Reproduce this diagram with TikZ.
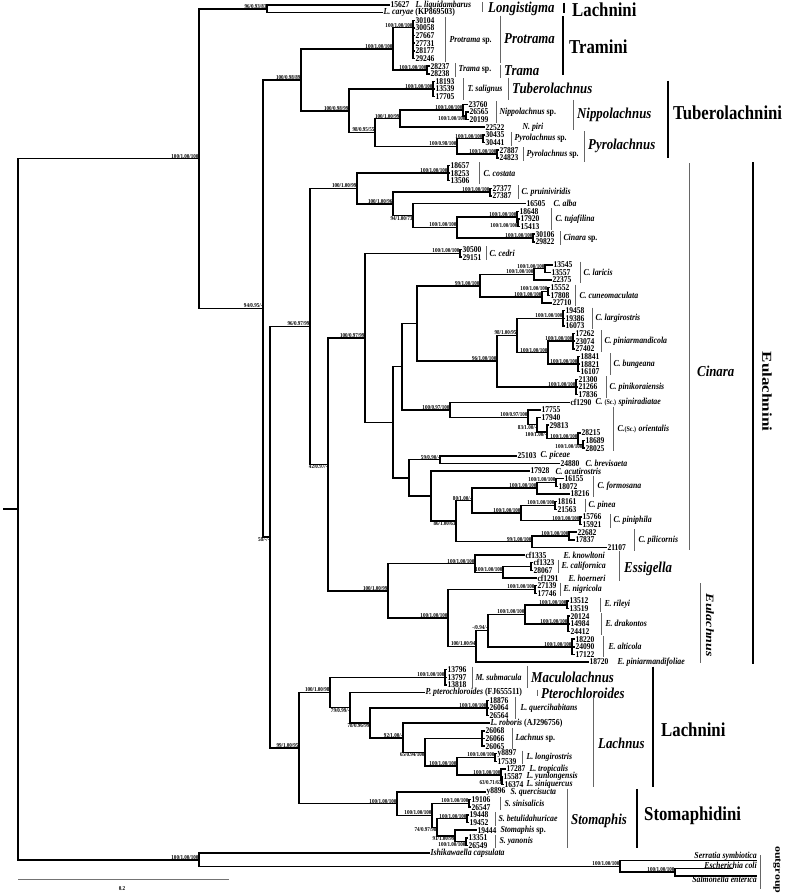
\documentclass[tikz,border=0pt]{standalone}
\usepackage{fontspec}
\setmainfont{Liberation Serif}[FakeStretch=0.85]
\newfontfamily\rotfont{Liberation Serif}
\usepackage{graphicx}
\usetikzlibrary{calc}

% tip label: name, row, branch end x, text
\newcommand\tip[4]{\node[num] (#1) at (#3,#2) {#4};}
% inner node half way between its first and last child
\newcommand\clade[4]{\path let \p1=($(#3)!.5!(#4)$) in coordinate (#1) at (#2pt,\y1);}
\newcommand\suplab[2]{\node[sup,anchor=south east] (s#1) at (#1) {#2};}
\newcommand\suplow[2]{\node[sup,anchor=north east] (s#1) at (#1) {#2};}
\newcommand\clbar[4][gbar]{\draw[#1] (#2,#3) -- (#2,#4);}

\begin{document}
\begin{tikzpicture}[x=1pt, y=-7.64pt,
  br/.style={line width=1.5pt},
  num/.style={anchor=west, inner sep=0.3pt, font=\fontsize{8.9}{8.9}\selectfont\bfseries},
  spc/.style={anchor=west, inner sep=0.3pt, font=\fontsize{9.2}{9.2}\selectfont\bfseries\itshape},
  sup/.style={inner sep=0.3pt, font=\fontsize{6}{6}\selectfont\bfseries},
  gen/.style={anchor=west, inner sep=0pt, font=\fontsize{15.1}{15.1}\selectfont\bfseries\itshape},
  tribe/.style={anchor=west, inner sep=0pt, font=\fontsize{19.7}{19.7}\selectfont\bfseries},
  gbar/.style={line width=0.7pt, black!60},
  tbar/.style={line width=2.6pt}]
\useasboundingbox (0,0.3455) rectangle (787,117.62);

% ---- tips
\tip{t15627}{1}{390}{15627}
\node[spc] (tCar) at (383,2) {L. caryae \upshape(KP869503)};
\tip{t30104}{3}{415}{30104}
\tip{t30058}{4}{415}{30058}
\tip{t27667}{5}{415}{27667}
\tip{t27731}{6}{415}{27731}
\tip{t28177}{7}{415}{28177}
\tip{t29246}{8}{415}{29246}
\tip{t28237}{9}{430}{28237}
\tip{t28238}{10}{430}{28238}
\tip{t18193}{11}{435}{18193}
\tip{t13539}{12}{435}{13539}
\tip{t17705}{13}{435}{17705}
\tip{t23760}{14}{468}{23760}
\tip{t26565}{15}{469}{26565}
\tip{t20199}{16}{469}{20199}
\tip{t22522}{17}{485}{22522}
\tip{t30435}{18}{485}{30435}
\tip{t30441}{19}{485}{30441}
\tip{t27887}{20}{499}{27887}
\tip{t24823}{21}{499}{24823}
\tip{t18657}{22}{450}{18657}
\tip{t18253}{23}{450}{18253}
\tip{t13506}{24}{450}{13506}
\tip{t27377}{25}{492}{27377}
\tip{t27387}{26}{492}{27387}
\tip{t16505}{27}{526}{16505}
\tip{t18648}{28}{519}{18648}
\tip{t17920}{29}{520}{17920}
\tip{t15413}{30}{520}{15413}
\tip{t30106}{31}{535}{30106}
\tip{t29822}{32}{535}{29822}
\tip{t30500}{33}{462}{30500}
\tip{t29151}{34}{462}{29151}
\tip{t13545}{35}{553}{13545}
\tip{t13557}{36}{551}{13557}
\tip{t22375}{37}{552}{22375}
\tip{t15552}{38}{550}{15552}
\tip{t17808}{39}{550}{17808}
\tip{t22710}{40}{552}{22710}
\tip{t19458}{41}{565}{19458}
\tip{t19386}{42}{565}{19386}
\tip{t16073}{43}{565}{16073}
\tip{t17262}{44}{575}{17262}
\tip{t23074}{45}{575}{23074}
\tip{t27402}{46}{575}{27402}
\tip{t18841}{47}{580}{18841}
\tip{t18821}{48}{580}{18821}
\tip{t16107}{49}{580}{16107}
\tip{t21300}{50}{578}{21300}
\tip{t21266}{51}{578}{21266}
\tip{t17836}{52}{578}{17836}
\tip{t1290}{53}{570}{cf1290}
\tip{t17755}{54}{541}{17755}
\tip{t17940}{55}{541}{17940}
\tip{t29813}{56}{549}{29813}
\tip{t28215}{57}{581}{28215}
\tip{t18689}{58}{585}{18689}
\tip{t28025}{59}{585}{28025}
\tip{t25103}{60}{517}{25103}
\tip{t24880}{61}{560}{24880}
\tip{t17928}{62}{530}{17928}
\tip{t16155}{63}{564}{16155}
\tip{t18072}{64}{558}{18072}
\tip{t18216}{65}{570}{18216}
\tip{t18161}{66}{557}{18161}
\tip{t21563}{67}{557}{21563}
\tip{t15766}{68}{582}{15766}
\tip{t15921}{69}{582}{15921}
\tip{t22682}{70}{577}{22682}
\tip{t17837}{71}{575}{17837}
\tip{t21107}{72}{607}{21107}
\tip{t1335}{73}{525}{cf1335}
\tip{t1323}{74}{533}{cf1323}
\tip{t28067}{75}{533}{28067}
\tip{t1291}{76}{537}{cf1291}
\tip{t27139}{77}{537}{27139}
\tip{t17746}{78}{537}{17746}
\tip{t13512}{79}{569}{13512}
\tip{t13519}{80}{569}{13519}
\tip{t20124}{81}{570}{20124}
\tip{t14984}{82}{570}{14984}
\tip{t24412}{83}{570}{24412}
\tip{t18220}{84}{575}{18220}
\tip{t24090}{85}{575}{24090}
\tip{t17122}{86}{575}{17122}
\tip{t18720}{87}{589}{18720}
\tip{t13796}{88}{447}{13796}
\tip{t13797}{89}{447}{13797}
\tip{t13818}{90}{447}{13818}
\node[spc] (tPte) at (425,91) {P. pterochloroides \upshape(FJ655511)};
\tip{t18876}{92}{489}{18876}
\tip{t26064}{93}{489}{26064}
\tip{t26564}{94}{489}{26564}
\node[spc] (tRob) at (490,95) {L. roboris \upshape(AJ296756)};
\tip{t26068}{96}{485}{26068}
\tip{t26066}{97}{485}{26066}
\tip{t26065}{98}{485}{26065}
\tip{t8897}{99}{497}{y8897}
\tip{t17539}{100}{497}{17539}
\tip{t17287}{101}{506}{17287}
\tip{t15587}{102}{503}{15587}
\tip{t16374}{103}{504}{16374}
\tip{t8896}{104}{486}{y8896}
\tip{t19106}{105}{471}{19106}
\tip{t26547}{106}{471}{26547}
\tip{t19448}{107}{469}{19448}
\tip{t19452}{108}{469}{19452}
\tip{t19444}{109}{477}{19444}
\tip{t13351}{110}{468}{13351}
\tip{t26549}{111}{468}{26549}
\node[spc] (tIsh) at (430,112) {Ishikawaella capsulata};
\coordinate (eSer) at (757,113);
\coordinate (eEco) at (733,114);
\coordinate (eSal) at (757,115);
\node[spc,anchor=south east,inner sep=0pt] (tSer) at (eSer) {Serratia symbiotica};
\node[spc,anchor=east,inner sep=0pt] (tEco) at (757,113.66) {Escherichia coli};
\node[spc,anchor=north east,inner sep=0pt] (tSal) at (eSal) {Salmonella enterica};

% ---- inner nodes
\clade{nLon}{267}{t15627}{tCar}
\coordinate (nProt) at (413,3.97);
\clade{nTrama}{427}{t28237}{t28238}
\clade{nTram}{393}{nProt}{nTrama}
\clade{nTub}{433}{t18193}{t17705}
\clade{nNipB}{466}{t26565}{t20199}
\clade{nNipA}{463}{t23760}{nNipB}
\clade{nNip}{400}{nNipA}{t22522}
\clade{nPyrA}{483}{t30435}{t30441}
\clade{nPyrB}{497}{t27887}{t24823}
\clade{nPyr}{457}{nPyrA}{nPyrB}
\clade{nNP}{375}{nNip}{nPyr}
\clade{nTuber}{349}{nTub}{nNP}
\clade{nTT}{301}{nTram}{nTuber}

\clade{nCos}{448}{t18657}{t13506}
\clade{nPru}{490}{t27377}{t27387}
\clade{nTuj2}{518}{t17920}{t15413}
\clade{nTuja}{517}{t18648}{nTuj2}
\clade{nCsp}{533}{t30106}{t29822}
\clade{nTC}{457}{nTuja}{nCsp}
\clade{nAlb}{413}{t16505}{nTC}
\clade{nPA}{393}{nPru}{nAlb}
\clade{nCup}{357}{nCos}{nPA}

\clade{nCed}{460}{t30500}{t29151}
\clade{nLar2}{545}{t13545}{t13557}
\clade{nLar}{534}{nLar2}{t22375}
\clade{nCun2}{548}{t15552}{t17808}
\clade{nCun}{542}{nCun2}{t22710}
\clade{nLC}{480}{nLar}{nCun}
\clade{nLrg}{563}{t19458}{t16073}
\clade{nPam}{573}{t17262}{t27402}
\clade{nBun}{578}{t18841}{t16107}
\clade{nPB}{548}{nPam}{nBun}
\clade{nLPB}{517}{nLrg}{nPB}
\clade{nPko}{576}{t21300}{t17836}
\clade{nLP}{497}{nLPB}{nPko}
\clade{nLCP}{417}{nLC}{nLP}
\clade{nOr6}{583}{t18689}{t28025}
\clade{nOr5}{578}{t28215}{nOr6}
\clade{nOr4}{547}{t29813}{nOr5}
\clade{nOr3}{537}{t17940}{nOr4}
\clade{nOr2}{528}{t17755}{nOr3}
\clade{nSO}{450}{t1290}{nOr2}
\clade{nUp}{402}{nLCP}{nSO}
\clade{nPic}{440}{t25103}{t24880}
\clade{nForm2}{556}{t16155}{t18072}
\clade{nForm}{537}{nForm2}{t18216}
\clade{nPin}{555}{t18161}{t21563}
\clade{nPph}{580}{t15766}{t15921}
\clade{nPP}{521}{nPin}{nPph}
\clade{nFPP}{472}{nForm}{nPP}
\clade{nPil2}{569}{t22682}{t17837}
\clade{nPil}{532}{nPil2}{t21107}
\clade{nFP}{456}{nFPP}{nPil}
\clade{nAcu}{431}{t17928}{nFP}
\clade{nLow}{409}{nPic}{nAcu}
\clade{nCm2}{393}{nUp}{nLow}
\clade{nCm}{365}{nCed}{nCm2}

\clade{nCal}{531}{t1323}{t28067}
\clade{nEs2}{503}{nCal}{t1291}
\clade{nEss}{475}{t1335}{nEs2}
\clade{nNig}{535}{t27139}{t17746}
\clade{nRil}{567}{t13512}{t13519}
\clade{nDrk}{568}{t20124}{t24412}
\clade{nRD}{525}{nRil}{nDrk}
\clade{nAlt}{572}{t18220}{t17122}
\clade{nRDA}{488}{nRD}{nAlt}
\clade{nEul2}{476}{nRDA}{t18720}
\clade{nEul}{448}{nNig}{nEul2}
\clade{nEE}{388}{nEss}{nEul}
\clade{nCE}{328}{nCm}{nEE}
\clade{nEla}{310}{nCup}{nCE}

\clade{nMac}{445}{t13796}{t13818}
\clade{nQue}{487}{t18876}{t26564}
\clade{nLsp}{482}{t26068}{t26065}
\clade{nLon2}{495}{t8897}{t17539}
\clade{nYun}{502}{t15587}{t16374}
\clade{nTro}{501}{t17287}{nYun}
\clade{nLT2}{457}{nLon2}{nTro}
\clade{nLsL}{425}{nLsp}{nLT2}
\clade{nRob}{403}{tRob}{nLsL}
\clade{nQR}{370}{nQue}{nRob}
\clade{nPQ}{350}{tPte}{nQR}
\clade{nLach}{330}{nMac}{nPQ}

\clade{nSin}{469}{t19106}{t26547}
\clade{nBet}{467}{t19448}{t19452}
\clade{nYan}{466}{t13351}{t26549}
\clade{nSY}{455}{t19444}{nYan}
\clade{nBSY}{437}{nBet}{nSY}
\clade{nSBSY}{432}{nSin}{nBSY}
\clade{nSto}{397}{t8896}{nSBSY}
\clade{nLS}{299}{nLach}{nSto}

\clade{nRest}{270}{nEla}{nLS}
\clade{nMain}{263}{nTT}{nRest}
\clade{nIn}{199}{nLon}{nMain}
\clade{nES}{675}{eEco}{eSal}
\clade{nEnt}{620}{eSer}{nES}
\clade{nOut}{199}{tIsh}{nEnt}
\clade{nRoot}{18}{nIn}{nOut}
\coordinate (base) at ([xshift=-15pt]nRoot);

% ---- branches
\draw[br] (nLon) |- (t15627.west) (nLon) |- (tCar.west);
\draw[br] (nProt) |- (t30104.west) (nProt) |- (t30058.west) (nProt) |- (t27667.west)
          (nProt) |- (t27731.west) (nProt) |- (t28177.west) (nProt) |- (t29246.west);
\draw[br] (nTrama) |- (t28237.west) (nTrama) |- (t28238.west);
\draw[br] (nTram) |- (nProt) (nTram) |- (nTrama);
\draw[br] (nTub) |- (t18193.west) (nTub) |- (t13539.west) (nTub) |- (t17705.west);
\draw[br] (nNipB) |- (t26565.west) (nNipB) |- (t20199.west);
\draw[br] (nNipA) |- (t23760.west) (nNipA) |- (nNipB);
\draw[br] (nNip) |- (nNipA) (nNip) |- (t22522.west);
\draw[br] (nPyrA) |- (t30435.west) (nPyrA) |- (t30441.west);
\draw[br] (nPyrB) |- (t27887.west) (nPyrB) |- (t24823.west);
\draw[br] (nPyr) |- (nPyrA) (nPyr) |- (nPyrB);
\draw[br] (nNP) |- (nNip) (nNP) |- (nPyr);
\draw[br] (nTuber) |- (nTub) (nTuber) |- (nNP);
\draw[br] (nTT) |- (nTram) (nTT) |- (nTuber);

\draw[br] (nCos) |- (t18657.west) (nCos) |- (t18253.west) (nCos) |- (t13506.west);
\draw[br] (nPru) |- (t27377.west) (nPru) |- (t27387.west);
\draw[br] (nTuj2) |- (t17920.west) (nTuj2) |- (t15413.west);
\draw[br] (nTuja) |- (t18648.west) (nTuja) |- (nTuj2);
\draw[br] (nCsp) |- (t30106.west) (nCsp) |- (t29822.west);
\draw[br] (nTC) |- (nTuja) (nTC) |- (nCsp);
\draw[br] (nAlb) |- (t16505.west) (nAlb) |- (nTC);
\draw[br] (nPA) |- (nPru) (nPA) |- (nAlb);
\draw[br] (nCup) |- (nCos) (nCup) |- (nPA);

\draw[br] (nCed) |- (t30500.west) (nCed) |- (t29151.west);
\draw[br] (nLar2) |- (t13545.west) (nLar2) |- (t13557.west);
\draw[br] (nLar) |- (nLar2) (nLar) |- (t22375.west);
\draw[br] (nCun2) |- (t15552.west) (nCun2) |- (t17808.west);
\draw[br] (nCun) |- (nCun2) (nCun) |- (t22710.west);
\draw[br] (nLC) |- (nLar) (nLC) |- (nCun);
\draw[br] (nLrg) |- (t19458.west) (nLrg) |- (t19386.west) (nLrg) |- (t16073.west);
\draw[br] (nPam) |- (t17262.west) (nPam) |- (t23074.west) (nPam) |- (t27402.west);
\draw[br] (nBun) |- (t18841.west) (nBun) |- (t18821.west) (nBun) |- (t16107.west);
\draw[br] (nPB) |- (nPam) (nPB) |- (nBun);
\draw[br] (nLPB) |- (nLrg) (nLPB) |- (nPB);
\draw[br] (nPko) |- (t21300.west) (nPko) |- (t21266.west) (nPko) |- (t17836.west);
\draw[br] (nLP) |- (nLPB) (nLP) |- (nPko);
\draw[br] (nLCP) |- (nLC) (nLCP) |- (nLP);
\draw[br] (nOr6) |- (t18689.west) (nOr6) |- (t28025.west);
\draw[br] (nOr5) |- (t28215.west) (nOr5) |- (nOr6);
\draw[br] (nOr4) |- (t29813.west) (nOr4) |- (nOr5);
\draw[br] (nOr3) |- (t17940.west) (nOr3) |- (nOr4);
\draw[br] (nOr2) |- (t17755.west) (nOr2) |- (nOr3);
\draw[br] (nSO) |- (t1290.west) (nSO) |- (nOr2);
\draw[br] (nUp) |- (nLCP) (nUp) |- (nSO);
\draw[br] (nPic) |- (t25103.west) (nPic) |- (t24880.west);
\draw[br] (nForm2) |- (t16155.west) (nForm2) |- (t18072.west);
\draw[br] (nForm) |- (nForm2) (nForm) |- (t18216.west);
\draw[br] (nPin) |- (t18161.west) (nPin) |- (t21563.west);
\draw[br] (nPph) |- (t15766.west) (nPph) |- (t15921.west);
\draw[br] (nPP) |- (nPin) (nPP) |- (nPph);
\draw[br] (nFPP) |- (nForm) (nFPP) |- (nPP);
\draw[br] (nPil2) |- (t22682.west) (nPil2) |- (t17837.west);
\draw[br] (nPil) |- (nPil2) (nPil) |- (t21107.west);
\draw[br] (nFP) |- (nFPP) (nFP) |- (nPil);
\draw[br] (nAcu) |- (t17928.west) (nAcu) |- (nFP);
\draw[br] (nLow) |- (nPic) (nLow) |- (nAcu);
\draw[br] (nCm2) |- (nUp) (nCm2) |- (nLow);
\draw[br] (nCm) |- (nCed) (nCm) |- (nCm2);

\draw[br] (nCal) |- (t1323.west) (nCal) |- (t28067.west);
\draw[br] (nEs2) |- (nCal) (nEs2) |- (t1291.west);
\draw[br] (nEss) |- (t1335.west) (nEss) |- (nEs2);
\draw[br] (nNig) |- (t27139.west) (nNig) |- (t17746.west);
\draw[br] (nRil) |- (t13512.west) (nRil) |- (t13519.west);
\draw[br] (nDrk) |- (t20124.west) (nDrk) |- (t14984.west) (nDrk) |- (t24412.west);
\draw[br] (nRD) |- (nRil) (nRD) |- (nDrk);
\draw[br] (nAlt) |- (t18220.west) (nAlt) |- (t24090.west) (nAlt) |- (t17122.west);
\draw[br] (nRDA) |- (nRD) (nRDA) |- (nAlt);
\draw[br] (nEul2) |- (nRDA) (nEul2) |- (t18720.west);
\draw[br] (nEul) |- (nNig) (nEul) |- (nEul2);
\draw[br] (nEE) |- (nEss) (nEE) |- (nEul);
\draw[br] (nCE) |- (nCm) (nCE) |- (nEE);
\draw[br] (nEla) |- (nCup) (nEla) |- (nCE);

\draw[br] (nMac) |- (t13796.west) (nMac) |- (t13797.west) (nMac) |- (t13818.west);
\draw[br] (nQue) |- (t18876.west) (nQue) |- (t26064.west) (nQue) |- (t26564.west);
\draw[br] (nLsp) |- (t26068.west) (nLsp) |- (t26066.west) (nLsp) |- (t26065.west);
\draw[br] (nLon2) |- (t8897.west) (nLon2) |- (t17539.west);
\draw[br] (nYun) |- (t15587.west) (nYun) |- (t16374.west);
\draw[br] (nTro) |- (t17287.west) (nTro) |- (nYun);
\draw[br] (nLT2) |- (nLon2) (nLT2) |- (nTro);
\draw[br] (nLsL) |- (nLsp) (nLsL) |- (nLT2);
\draw[br] (nRob) |- (tRob.west) (nRob) |- (nLsL);
\draw[br] (nQR) |- (nQue) (nQR) |- (nRob);
\draw[br] (nPQ) |- (tPte.west) (nPQ) |- (nQR);
\draw[br] (nLach) |- (nMac) (nLach) |- (nPQ);

\draw[br] (nSin) |- (t19106.west) (nSin) |- (t26547.west);
\draw[br] (nBet) |- (t19448.west) (nBet) |- (t19452.west);
\draw[br] (nYan) |- (t13351.west) (nYan) |- (t26549.west);
\draw[br] (nSY) |- (t19444.west) (nSY) |- (nYan);
\draw[br] (nBSY) |- (nBet) (nBSY) |- (nSY);
\draw[br] (nSBSY) |- (nSin) (nSBSY) |- (nBSY);
\draw[br] (nSto) |- (t8896.west) (nSto) |- (nSBSY);
\draw[br] (nLS) |- (nLach) (nLS) |- (nSto);

\draw[br] (nRest) |- (nEla) (nRest) |- (nLS);
\draw[br] (nMain) |- (nTT) (nMain) |- (nRest);
\draw[br] (nIn) |- (nLon) (nIn) |- (nMain);
\draw[br] (nES) |- (eEco) (nES) |- (eSal);
\draw[br] (nEnt) |- (eSer) (nEnt) |- (nES);
\draw[br] (nOut) |- (tIsh.west) (nOut) |- (nEnt);
\draw[br] (nRoot) |- (nIn) (nRoot) |- (nOut);
\draw[br] (base) -- (nRoot);

% ---- support values
\suplab{nLon}{96/0.93/83}
\suplab{nProt}{100/1.00/100}
\suplab{nTrama}{100/1.00/100}
\suplab{nTram}{100/1.00/100}
\suplab{nTub}{100/1.00/100}
\suplab{nNipA}{100/1.00/100}
\suplow{nNipB}{100/1.00/100}
\suplab{nNip}{100/1.00/99}
\suplab{nPyrA}{100/1.00/100}
\suplab{nPyrB}{100/1.00/100}
\suplab{nPyr}{100/0.98/100}
\suplab{nNP}{98/0.95/55}
\suplab{nTuber}{100/0.98/99}
\suplab{nTT}{100/0.98/89}
\suplab{nCos}{100/1.00/100}
\suplab{nPru}{100/1.00/100}
\suplab{nTuja}{100/1.00/100}
\suplow{nTuj2}{100/1.00/100}
\suplab{nCsp}{100/1.00/100}
\suplab{nTC}{100/1.00/100}
\suplow{nAlb}{94/1.00/73}
\suplab{nPA}{100/1.00/96}
\suplab{nCup}{100/1.00/99}
\suplab{nCed}{100/1.00/100}
\suplab{nLar2}{100/1.00/100}
\suplab{nLar}{100/1.00/100}
\suplab{nCun2}{100/1.00/100}
\suplab{nCun}{100/1.00/100}
\suplab{nLC}{99/1.00/100}
\suplab{nLrg}{100/1.00/100}
\suplab{nPam}{100/1.00/100}
\suplab{nBun}{100/1.00/100}
\suplab{nPB}{100/1.00/100}
\suplab{nLPB}{98/1.00/95}
\suplab{nPko}{100/1.00/100}
\suplab{nLP}{96/1.00/100}
\suplow{nOr6}{100/1.00/100}
\suplab{nOr5}{100/1.00/100}
\suplow{nOr4}{100/1.00/-}
\suplow{nOr3}{83/1.00/-}
\suplab{nOr2}{100/0.97/100}
\suplab{nSO}{100/0.97/100}
\suplab{nPic}{59/0.90/-}
\suplab{nForm2}{100/1.00/100}
\suplab{nForm}{100/1.00/100}
\suplab{nPin}{100/1.00/100}
\suplab{nPph}{100/1.00/100}
\suplab{nPP}{100/1.00/100}
\suplab{nFPP}{80/1.00/-}
\suplab{nPil2}{100/1.00/100}
\suplab{nPil}{99/1.00/100}
\suplow{nFP}{86/1.00/63}
\suplab{nCm}{100/0.97/99}
\suplab{nEs2}{100/1.00/100}
\suplab{nEss}{100/1.00/100}
\suplab{nNig}{100/1.00/100}
\suplab{nRil}{100/1.00/100}
\suplab{nDrk}{100/1.00/100}
\suplab{nRD}{100/1.00/100}
\suplab{nAlt}{100/1.00/100}
\suplab{nRDA}{-/0.94/-}
\suplab{nEul2}{100/1.00/94}
\suplab{nEul}{100/1.00/100}
\suplab{nEE}{100/1.00/99}
\suplow{nCE}{42/0.97/-}
\suplab{nEla}{96/0.97/99}
\suplab{nMac}{100/1.00/100}
\suplab{nQue}{100/1.00/100}
\suplab{nLon2}{100/1.00/100}
\suplow{nYun}{63/0.71/63}
\suplab{nTro}{100/1.00/100}
\suplab{nLT2}{100/1.00/100}
\suplow{nLsL}{65/0.94/100}
\suplab{nRob}{92/1.00/-}
\suplow{nQR}{78/0.96/99}
\suplow{nPQ}{79/0.99/-}
\suplab{nLach}{100/1.00/98}
\suplab{nSin}{100/1.00/100}
\suplab{nBet}{100/1.00/100}
\suplow{nYan}{100/1.00/100}
\suplow{nSY}{91/1.00/99}
\suplow{nBSY}{74/0.97/98}
\suplab{nSBSY}{100/1.00/100}
\suplab{nSto}{100/1.00/100}
\suplab{nLS}{99/1.00/95}
\suplow{nRest}{58/-/-}
\suplab{nMain}{94/0.95/-}
\suplab{nIn}{100/1.00/100}
\suplab{nES}{100/1.00/100}
\suplab{nEnt}{100/1.00/100}
\suplab{nOut}{100/1.00/100}

% ---- species, genera, tribes
\node[spc] (sLiq) at (415,1) {L. liquidambarus};
\clbar{482}{0.6}{1.9}
\node[gen] (gLon) at (488,1.5) {Longistigma};
\clbar[tbar]{564}{0.7}{2.1}
\node[tribe] (rLach1) at (572,1.6) {Lachnini};

\clbar{445}{2.6}{8.4}
\node[spc] (sProt) at (449,5.7) {Protrama \upshape sp.};
\clbar{500}{2.4}{8.6}
\node[gen] (gProt) at (504,5.4) {Protrama};
\clbar{455}{8.6}{10.4}
\node[spc] (sTrama) at (458,9.5) {Trama \upshape sp.};
\clbar{500}{8.8}{10.5}
\node[gen] (gTrama) at (504,9.6) {Trama};
\clbar[tbar]{563}{2.5}{10.2}
\node[tribe] (rTram) at (569,6.5) {Tramini};

\clbar{463}{10.6}{13.4}
\node[spc] (sSal) at (467,12) {T. salignus};
\clbar{508}{10.5}{13.4}
\node[gen] (gTub) at (512,11.9) {Tuberolachnus};
\clbar{496}{13.6}{16.4}
\node[spc] (sNip) at (499,15) {Nippolachnus \upshape sp.};
\node[spc] (sPiri) at (522,17) {N. piri};
\clbar{573}{13.4}{17.4}
\node[gen] (gNip) at (577,15.4) {Nippolachnus};
\clbar{511}{17.6}{19.4}
\node[spc] (sPyr1) at (514,18.5) {Pyrolachnus \upshape sp.};
\clbar{523}{19.6}{21.4}
\node[spc] (sPyr2) at (526,20.5) {Pyrolachnus \upshape sp.};
\clbar{584}{17.5}{21.5}
\node[gen] (gPyr) at (588,19.5) {Pyrolachnus};
\clbar[tbar]{668}{10.9}{21}
\node[tribe] (rTub) at (673,15.1) {Tuberolachnini};

\clbar{479}{21.6}{24.4}
\node[spc] (sCos) at (483,23) {C. costata};
\clbar{518}{24.6}{26.4}
\node[spc] (sPru) at (521,25.5) {C. pruiniviridis};
\node[spc] (sAlba) at (553,27) {C. alba};
\clbar{551}{27.6}{30.4}
\node[spc] (sTuj) at (555,29) {C. tujafilina};
\clbar{560}{30.6}{32.4}
\node[spc] (sCsp) at (563,31.5) {Cinara \upshape sp.};
\clbar{486}{32.6}{34.4}
\node[spc] (sCed) at (489,33.5) {C. cedri};
\clbar{580}{34.6}{37.4}
\node[spc] (sLar) at (583,36) {C. laricis};
\clbar{575}{37.6}{40.4}
\node[spc] (sCun) at (579,39) {C. cuneomaculata};
\clbar{592}{40.6}{43.4}
\node[spc] (sLrg) at (595,42) {C. largirostris};
\clbar{601}{43.6}{46.4}
\node[spc] (sPam) at (604,45) {C. piniarmandicola};
\clbar{610}{46.6}{49.4}
\node[spc] (sBun) at (613,48) {C. bungeana};
\clbar{606}{49.6}{52.4}
\node[spc] (sPko) at (609,51) {C. pinikoraiensis};
\node[spc] (sSpi) at (595,53) {C. {\upshape\fontsize{7}{7}\selectfont(Sc.)} spiniradiatae};
\clbar{613}{53.6}{59.4}
\node[spc] (sOri) at (617,56.5) {C.{\upshape\fontsize{7}{7}\selectfont(Sc.)} orientalis};
\node[spc] (sPic) at (540,60) {C. piceae};
\node[spc] (sBre) at (585,61) {C. brevisaeta};
\node[spc] (sAcu) at (555,62) {C. acutirostris};
\clbar{593}{62.6}{65.4}
\node[spc] (sFor) at (597,64) {C. formosana};
\clbar{585}{65.6}{67.4}
\node[spc] (sPin) at (588,66.5) {C. pinea};
\clbar{610}{67.6}{69.4}
\node[spc] (sPph) at (613,68.5) {C. piniphila};
\clbar{634}{69.6}{72.4}
\node[spc] (sPil) at (638,71) {C. pilicornis};
\clbar{689}{21.7}{72.3}
\node[gen] (gCin) at (697,49) {Cinara};

\node[spc] (sKno) at (563,73) {E. knowltoni};
\clbar{558}{73.6}{75.4}
\node[spc] (sCal) at (561,74.5) {E. californica};
\node[spc] (sHoe) at (568,76) {E. hoerneri};
\clbar{619}{72.5}{76.4}
\node[gen] (gEss) at (624,74.8) {Essigella};
\clbar{560}{76.6}{78.4}
\node[spc] (sNig) at (563,77.5) {E. nigricola};
\clbar{600}{78.6}{80.4}
\node[spc] (sRil) at (604,79.5) {E. rileyi};
\clbar{601}{80.6}{83.4}
\node[spc] (sDrk) at (605,82) {E. drakontos};
\clbar{603}{83.6}{86.4}
\node[spc] (sAlt) at (608,85) {E. alticola};
\node[spc] (sPaf) at (617,87) {E. piniarmandifoliae};
\clbar{700}{76.7}{87.1}
\node[rotate=-90, inner sep=0pt] (gEul) at (710,82.2)
  {\scalebox{1}[0.8]{\rotfont\fontsize{14}{14}\selectfont\bfseries\itshape Eulachnus}};
\clbar[tbar]{753}{21.6}{87.3}
\node[rotate=-90, inner sep=0pt] (rEul) at (767,51.6)
  {\scalebox{1}[0.8]{\rotfont\fontsize{17}{17}\selectfont\bfseries Eulachnini}};

\clbar{472}{87.6}{90.4}
\node[spc] (sSub) at (475,89) {M. submacula};
\clbar{527}{87.5}{90.4}
\node[gen] (gMac) at (531,89) {Maculolachnus};
\clbar{537}{90.6}{91.5}
\node[gen] (gPte) at (541,91.1) {Pterochloroides};
\clbar{515}{91.6}{94.4}
\node[spc] (sQue) at (520,93) {L. quercihabitans};
\clbar{512}{95.6}{98.4}
\node[spc] (sLsp) at (515,97) {Lachnus \upshape sp.};
\clbar{522}{98.6}{100.4}
\node[spc] (sLgr) at (526,99.5) {L. longirostris};
\node[spc] (sTro) at (529,101) {L. tropicalis};
\node[spc] (sYun) at (526,102) {L. yunlongensis};
\node[spc] (sSiq) at (526,103) {L. siniquercus};
\clbar{593}{91.6}{103.4}
\node[gen] (gLac) at (598,97.6) {Lachnus};
\clbar[tbar]{653}{87.6}{103.4}
\node[tribe] (rLach2) at (661,95.9) {Lachnini};

\node[spc] (sQsu) at (510,104) {S. quercisucta};
\clbar{500}{104.6}{106.4}
\node[spc] (sSin) at (504,105.5) {S. sinisalicis};
\clbar{495}{106.6}{108.4}
\node[spc] (sBet) at (498,107.5) {S. betulidahuricae};
\node[spc] (sSsp) at (500,109) {Stomaphis \upshape sp.};
\clbar{495}{109.6}{111.4}
\node[spc] (sYan) at (499,110.5) {S. yanonis};
\clbar{567}{103.6}{111.4}
\node[gen] (gSto) at (571,107.8) {Stomaphis};
\clbar[tbar]{637}{103.6}{111.3}
\node[tribe] (rSto) at (644,107.1) {Stomaphidini};

\clbar{760}{112.3}{116.7}
\node[rotate=-90, inner sep=0pt] (rOut) at (777,114.2)
  {\scalebox{1}[0.8]{\rotfont\fontsize{12}{12}\selectfont\bfseries outgroup}};

% ---- scale bar
\coordinate (sbL) at (18,115.4);
\coordinate (sbR) at (229,115.4);
\draw[line width=0.8pt, black!55] (sbL) -- (sbR);
\node[font=\fontsize{6}{6}\selectfont\bfseries] (sbT) at (122,116.6) {0.2};
\end{tikzpicture}
\end{document}
